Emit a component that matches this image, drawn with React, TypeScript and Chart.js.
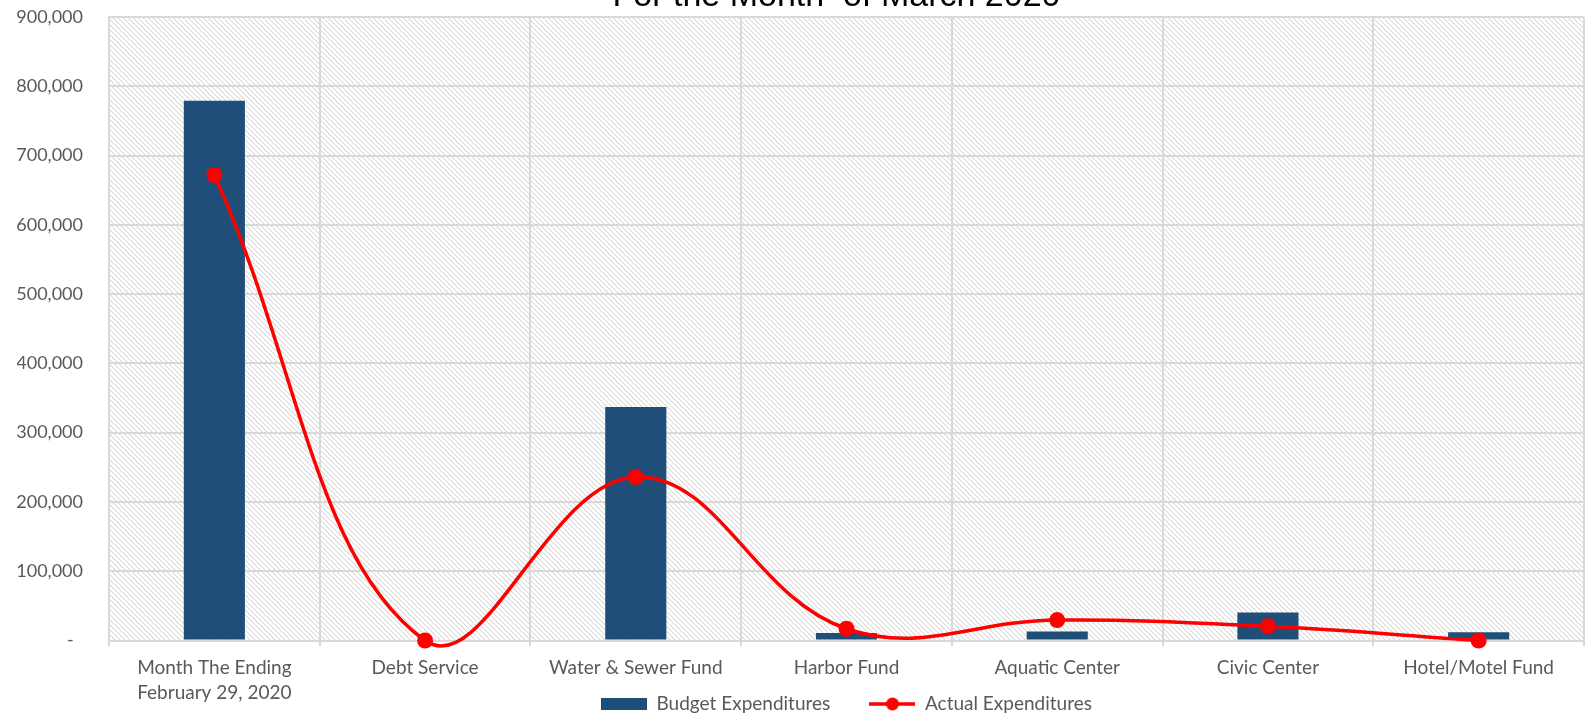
import React, { useEffect, useRef } from "react";
import { Chart, registerables } from "chart.js";

Chart.register(...registerables);

// Fund categories along the x axis
const categories: (string | string[])[] = [
  ["Month The Ending", "February 29, 2020"],
  "Debt Service",
  "Water & Sewer Fund",
  "Harbor Fund",
  "Aquatic Center",
  "Civic Center",
  "Hotel/Motel Fund",
];

// Budgeted and actual spending per fund (dollars)
const budgetExpenditures = [779000, 0, 337000, 11000, 13000, 40500, 12000];
const actualExpenditures = [672000, 0, 236000, 17000, 29500, 20500, 0];

// Value axis settings
const yMin = 0;
const yMax = 900000;
const yStep = 100000;

const titleText = "For the Month  of March 2020";
const seriesLabels = ["Budget Expenditures", "Actual Expenditures"];

const BAR_COLOR = "#1F4E79";
const LINE_COLOR = "#FF0000";
const GRID_COLOR = "#D9D9D9";
const TEXT_COLOR = "#595959";

function makeHatch(ctx: CanvasRenderingContext2D): CanvasPattern | string {
  const n = 5;
  const tile = document.createElement("canvas");
  tile.width = n;
  tile.height = n;
  const c = tile.getContext("2d");
  if (!c) return "#f6f6f6";
  c.fillStyle = "#ffffff";
  c.fillRect(0, 0, n, n);
  for (let i = 0; i < n; i++) {
    c.fillStyle = "#d8d8d8";
    c.fillRect(i, i, 1, 1);
    c.fillStyle = "#f2f2f2";
    c.fillRect((i + 1) % n, i, 1, 1);
  }
  return ctx.createPattern(tile, "repeat") || "#f6f6f6";
}

function barSwatch(): HTMLCanvasElement {
  const cv = document.createElement("canvas");
  cv.width = 46;
  cv.height = 12;
  const c = cv.getContext("2d")!;
  c.fillStyle = BAR_COLOR;
  c.fillRect(0, 0, 46, 12);
  return cv;
}

function lineSwatch(): HTMLCanvasElement {
  const cv = document.createElement("canvas");
  cv.width = 46;
  cv.height = 14;
  const c = cv.getContext("2d")!;
  c.strokeStyle = LINE_COLOR;
  c.lineWidth = 3.5;
  c.beginPath();
  c.moveTo(0, 7);
  c.lineTo(46, 7);
  c.stroke();
  c.fillStyle = LINE_COLOR;
  c.beginPath();
  c.arc(23, 7, 6.5, 0, Math.PI * 2);
  c.fill();
  return cv;
}

// Fills the plot area with a light diagonal hatch before anything else is drawn
const hatchBackground = {
  id: "hatchBackground",
  beforeDraw(chart: any) {
    const { ctx, chartArea } = chart;
    if (!chartArea) return;
    ctx.save();
    ctx.fillStyle = makeHatch(ctx);
    ctx.fillRect(
      chartArea.left,
      chartArea.top,
      chartArea.right - chartArea.left,
      chartArea.bottom - chartArea.top
    );
    ctx.restore();
  },
};

// Chart heading, centred over the plot area and partly above the canvas edge
const topHeading = {
  id: "topHeading",
  afterDraw(chart: any) {
    const { ctx, chartArea } = chart;
    ctx.save();
    ctx.font = "34px 'Liberation Sans', Arial, sans-serif";
    ctx.fillStyle = "#000000";
    ctx.textAlign = "center";
    ctx.textBaseline = "alphabetic";
    ctx.fillText(titleText, (chartArea.left + chartArea.right) / 2 - 10, 6);
    ctx.restore();
  },
};

export default function App() {
  const canvasRef = useRef<HTMLCanvasElement | null>(null);

  useEffect(() => {
    if (!canvasRef.current) return;
    const swatches = [barSwatch(), lineSwatch()];
    // extra room after the first legend entry
    const legendTexts = [seriesLabels[0] + "      ", seriesLabels[1]];

    const chart = new Chart(canvasRef.current, {
      type: "bar",
      data: {
        labels: categories,
        datasets: [
          {
            type: "bar",
            label: seriesLabels[0],
            data: budgetExpenditures,
            backgroundColor: BAR_COLOR,
            borderWidth: 0,
            barPercentage: 0.29,
            categoryPercentage: 1,
            order: 2,
          },
          {
            type: "line",
            label: seriesLabels[1],
            data: actualExpenditures,
            borderColor: LINE_COLOR,
            backgroundColor: LINE_COLOR,
            borderWidth: 3.5,
            pointRadius: 8,
            pointBackgroundColor: LINE_COLOR,
            pointBorderWidth: 0,
            tension: 0.4,
            capBezierPoints: false,
            clip: false,
            order: 1,
          } as any,
        ],
      },
      options: {
        responsive: false,
        animation: false,
        events: [],
        layout: { autoPadding: false, padding: { left: 17, right: 1, top: 17, bottom: -4.5 } },
        scales: {
          x: {
            offset: true,
            // the two-line first label runs down beside the legend, so the
            // axis reserves room for one line only and its labels are not clipped
            afterFit: (scale: any) => {
              scale.height = 44;
              scale.paddingRight = 0;
              scale._computeLabelArea = () => undefined;
            },
            grid: {
              offset: true,
              color: GRID_COLOR,
              lineWidth: 2,
              drawTicks: true,
              tickLength: 6,
            },
            border: { display: true, color: GRID_COLOR, width: 2 },
            ticks: {
              color: TEXT_COLOR,
              font: { family: "Lato", size: 19, lineHeight: 1.32 },
              padding: 8.5,
              maxRotation: 0,
              autoSkip: false,
            },
          },
          y: {
            min: yMin,
            max: yMax,
            afterFit: (scale: any) => {
              scale.width = 92;
              scale.paddingTop = 10;
              scale.paddingBottom = 10;
            },
            grid: { color: GRID_COLOR, lineWidth: 2, drawTicks: false },
            border: { display: true, color: GRID_COLOR, width: 2 },
            ticks: {
              stepSize: yStep,
              color: TEXT_COLOR,
              font: { family: "Lato", size: 18 },
              padding: 26,
              callback: (v: any) =>
                Number(v) === 0 ? "-  " : Number(v).toLocaleString("en-US"),
            },
          },
        },
        plugins: {
          tooltip: { enabled: false },
          title: { display: false },
          legend: {
            display: true,
            position: "bottom",
            fullSize: false,
            labels: {
              usePointStyle: true,
              pointStyleWidth: 46,
              boxHeight: 14,
              padding: 10,
              color: TEXT_COLOR,
              font: { family: "Lato", size: 19 },
              generateLabels: (ch: any) =>
                ch.data.datasets.map((ds: any, i: number) => ({
                  text: legendTexts[i],
                  fillStyle: i === 0 ? BAR_COLOR : LINE_COLOR,
                  strokeStyle: i === 0 ? BAR_COLOR : LINE_COLOR,
                  lineWidth: 0,
                  pointStyle: swatches[i],
                  fontColor: TEXT_COLOR,
                  hidden: false,
                  datasetIndex: i,
                })),
            },
          },
        },
      },
      plugins: [hatchBackground, topHeading],
    });

    return () => chart.destroy();
  }, []);

  return (
    <div style={{ position: "fixed", left: 0, top: 0, width: 1585, height: 719, background: "#fff" }}>
      <canvas ref={canvasRef} width={1585} height={719} style={{ display: "block" }} />
    </div>
  );
}
